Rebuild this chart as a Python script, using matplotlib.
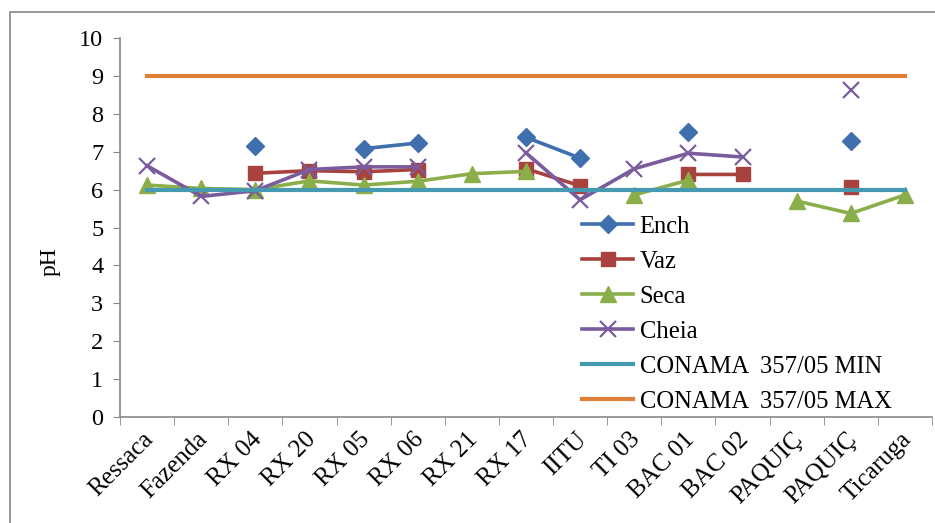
import numpy as np
import matplotlib
matplotlib.use("Agg")
import matplotlib.pyplot as plt
from matplotlib.patches import Rectangle
from matplotlib.transforms import ScaledTranslation

categories = ["Ressaca", "Fazenda", "RX 04", "RX 20", "RX 05", "RX 06", "RX 21", "RX 17",
              "IITU", "TI 03", "BAC 01", "BAC 02", "PAQUIÇ", "PAQUIÇ", "Ticaruga"]
nan = np.nan
ench = [nan, nan, 7.15, nan, 7.08, 7.23, nan, 7.38, 6.83, nan, 7.53, nan, nan, 7.27, nan]
vaz = [nan, nan, 6.43, 6.50, 6.47, 6.53, nan, 6.55, 6.10, nan, 6.40, 6.40, nan, 6.07, nan]
seca = [6.12, 6.03, 6.00, 6.23, 6.12, 6.22, 6.42, 6.48, nan, 5.86, 6.25, nan, 5.70, 5.37, 5.86]
cheia = [6.63, 5.82, 5.97, 6.53, 6.60, 6.60, nan, 6.97, 5.73, 6.55, 6.96, 6.86, nan, 8.62, nan]
conama_min = 6.0
conama_max = 9.0

plt.rcParams['font.family'] = ['Liberation Serif', 'DejaVu Serif']

fig = plt.figure(figsize=(9.35, 5.23), dpi=100)
ax = fig.add_axes([120/935, 1-417/523, 812/935, 379/523])

x = np.arange(len(categories))
lw = 2.6
ax.plot(x, ench, color='#3F6FAD', marker='D', markersize=9, lw=lw, label='Ench')
ax.plot(x, vaz, color='#A8423F', marker='s', markersize=10, lw=lw, label='Vaz')
ax.plot(x, seca, color='#8AAE49', marker='^', markersize=11, lw=lw, label='Seca')
ax.plot(x, cheia, color='#7A5C9E', marker='x', markersize=11, mew=1.6, lw=lw, label='Cheia')
ax.plot(x, [conama_min]*len(x), color='#4599B1', lw=3, label='CONAMA  357/05 MIN')
ax.plot(x, [conama_max]*len(x), color='#E07F38', lw=3, label='CONAMA  357/05 MAX')

ax.set_xlim(-0.5, len(categories)-0.5)
ax.set_ylim(0, 10)
ax.set_yticks(range(0, 11))
ax.tick_params(axis='y', labelsize=17.5, length=5, color='#888888', pad=7)
ax.set_xticks(x)
ax.set_xticklabels(categories, rotation=45, ha='right', rotation_mode='anchor', fontsize=18)
ax.set_xticks(np.arange(-0.5, len(categories)), minor=True)
ax.tick_params(axis='x', which='major', length=0, pad=8)
ax.tick_params(axis='x', which='minor', length=6, color='#888888')
offset = ScaledTranslation(-5/100, 0, fig.dpi_scale_trans)
for lbl in ax.get_xticklabels():
    lbl.set_transform(lbl.get_transform() + offset)
for s in ['top', 'right']:
    ax.spines[s].set_visible(False)
for s in ['left', 'bottom']:
    ax.spines[s].set_color('#888888')
    ax.spines[s].set_linewidth(1.2)
ax.set_ylabel('pH', fontsize=17)
ax.yaxis.set_label_coords(61/935, 1-262/523, transform=fig.transFigure)

leg = ax.legend(loc='center left', bbox_to_anchor=(572/935, 1-314/523), bbox_transform=fig.transFigure,
                frameon=False, fontsize=17.7, handlelength=2.1, labelspacing=0.52, handletextpad=0.25,
                borderaxespad=0)

fig.patches.append(Rectangle((10/935, -0.1), 1.2, 1-12/523+0.1, transform=fig.transFigure,
                             fill=False, edgecolor='#888888', lw=1.2))
fig.savefig('out.png', dpi=100)
